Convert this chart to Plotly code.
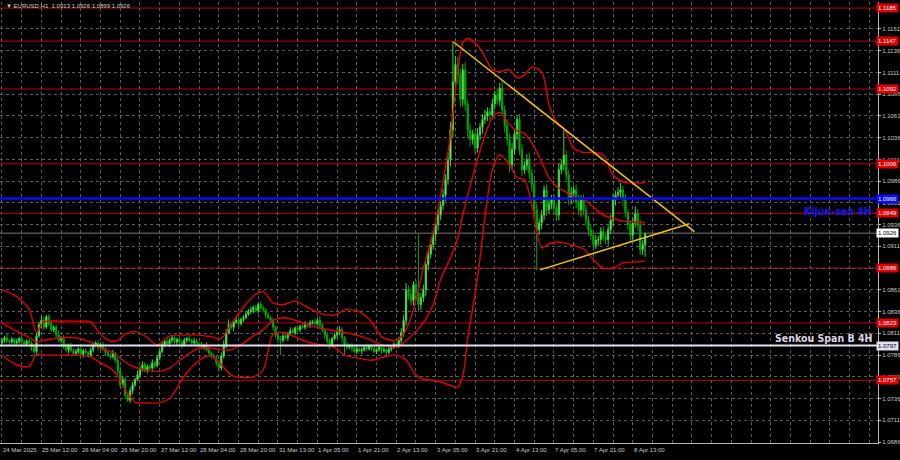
import plotly.graph_objects as go

# ---------------- data ----------------
first_open = 1.0800
close = [
    1.0803, 1.0806, 1.0802, 1.0801, 1.0804, 1.0800, 1.0802, 1.0805, 1.0801, 1.0799,
    1.0802, 1.0800, 1.0795, 1.0790, 1.0808, 1.0821, 1.0826, 1.0818, 1.0830, 1.0822,
    1.0815, 1.0818, 1.0809, 1.0803, 1.0806, 1.0795, 1.0792, 1.0797, 1.0791, 1.0788,
    1.0790, 1.0793, 1.0787, 1.0791, 1.0789, 1.0786, 1.0792, 1.0797, 1.0800, 1.0795,
    1.0798, 1.0793, 1.0789, 1.0786, 1.0784, 1.0788, 1.0780, 1.0768, 1.0752, 1.0758,
    1.0740, 1.0734, 1.0745, 1.0752, 1.0758, 1.0763, 1.0770, 1.0775, 1.0768, 1.0773,
    1.0771, 1.0777, 1.0774, 1.0783, 1.0790, 1.0798, 1.0802, 1.0799, 1.0803, 1.0806,
    1.0801, 1.0804, 1.0801, 1.0798, 1.0803, 1.0805, 1.0803, 1.0800, 1.0802, 1.0799,
    1.0798, 1.0795, 1.0797, 1.0792, 1.0788, 1.0785, 1.0783, 1.0777, 1.0771, 1.0785,
    1.0798, 1.0812, 1.0821, 1.0818, 1.0824, 1.0826, 1.0822, 1.0827, 1.0829, 1.0833,
    1.0836, 1.0838, 1.0841, 1.0837, 1.0844, 1.0840, 1.0838, 1.0832, 1.0829, 1.0826,
    1.0818, 1.0809, 1.0805, 1.0803, 1.0808, 1.0806, 1.0811, 1.0814, 1.0812, 1.0817,
    1.0815, 1.0819, 1.0818, 1.0821, 1.0820, 1.0823, 1.0824, 1.0822, 1.0826, 1.0820,
    1.0815, 1.0809, 1.0802, 1.0798, 1.0805, 1.0809, 1.0812, 1.0815, 1.0806, 1.0798,
    1.0795, 1.0797, 1.0794, 1.0790, 1.0793, 1.0791, 1.0792, 1.0795, 1.0793, 1.0796,
    1.0794, 1.0790, 1.0792, 1.0795, 1.0791, 1.0792, 1.0789, 1.0793, 1.0795, 1.0798,
    1.0797, 1.0803, 1.0812, 1.0826, 1.0861, 1.0855, 1.0849, 1.0867, 1.0858, 1.0844,
    1.0852, 1.0861, 1.0890, 1.0902, 1.0913, 1.0925, 1.0936, 1.0947, 1.0958, 1.0970,
    1.0988, 1.1011, 1.1045, 1.1100, 1.1120, 1.1108, 1.1080, 1.1114, 1.1074, 1.1045,
    1.1034, 1.1040, 1.1024, 1.1039, 1.1048, 1.1057, 1.1061, 1.1066, 1.1062, 1.1075,
    1.1085, 1.1079, 1.1093, 1.1068, 1.1050, 1.1034, 1.1005, 1.1022, 1.1040, 1.1057,
    1.1022, 1.0999, 1.1004, 1.1011, 1.0995, 1.0982, 1.0953, 1.0930, 1.0938, 1.0947,
    1.0976, 1.0953, 1.0960, 1.0965, 1.0955, 1.0947, 1.0999, 1.1005, 1.1016, 1.0993,
    1.0965, 1.0972, 1.0976, 1.0962, 1.0953, 1.0965, 1.0952, 1.0941, 1.0930, 1.0924,
    1.0913, 1.0918, 1.0919, 1.0928, 1.0922, 1.0919, 1.0930, 1.0941, 1.0965, 1.0970,
    1.0973, 1.0976, 1.0965, 1.0950, 1.0936, 1.0924, 1.0938, 1.0949, 1.0936, 1.0907,
    1.0913, 1.0926,
]
up_wick = [
    3, 2, 4, 2, 3, 2, 3, 2, 4, 3,   2, 3, 2, 3, 4, 3, 5, 4, 2, 3,
    4, 2, 3, 5, 2, 3, 4, 2, 3, 2,   3, 2, 4, 2, 3, 2, 3, 4, 2, 3,
    2, 3, 2, 3, 2, 4, 2, 3, 5, 4,   3, 2, 4, 3, 2, 5, 3, 4, 3, 2,
    3, 4, 2, 3, 4, 3, 2, 5, 3, 2,   3, 2, 4, 2, 3, 2, 3, 2, 4, 3,
    2, 3, 2, 4, 3, 2, 3, 2, 3, 4,   5, 4, 6, 3, 2, 4, 3, 2, 3, 4,
    3, 4, 2, 3, 2, 4, 3, 2, 3, 2,   3, 2, 4, 3, 2, 3, 2, 4, 3, 2,
    3, 2, 3, 4, 2, 3, 2, 4, 3, 5,   3, 2, 4, 3, 2, 3, 5, 4, 3, 2,
    3, 2, 3, 2, 4, 2, 3, 2, 3, 2,   2, 3, 2, 3, 2, 4, 2, 3, 2, 3,
    3, 4, 5, 6, 8, 5, 6, 4, 5, 68,  5, 6, 4, 5, 6, 4, 5, 6, 5, 7,
    6, 8, 9, 47, 10, 9, 8, 7, 9, 6, 7, 5, 6, 8, 5, 6, 7, 5, 4, 6,
    5, 7, 6, 9, 5, 6, 7, 8, 5, 4,   6, 7, 5, 6, 8, 5, 6, 7, 5, 6,
    5, 6, 7, 5, 6, 4, 8, 6, 29, 5,  6, 7, 5, 6, 8, 5, 6, 7, 5, 6,
    5, 6, 4, 5, 6, 4, 5, 6, 7, 5,   6, 8, 5, 6, 4, 5, 7, 8, 5, 6,
    5, 0,
]
dn_wick = [
    2, 3, 2, 4, 2, 3, 2, 3, 2, 3,   3, 2, 4, 5, 3, 2, 4, 3, 2, 3,
    2, 3, 4, 2, 3, 2, 3, 4, 2, 3,   2, 3, 2, 4, 2, 3, 2, 3, 2, 4,
    3, 2, 4, 2, 3, 2, 3, 4, 5, 3,   4, 2, 3, 4, 3, 2, 4, 3, 2, 3,
    2, 3, 4, 2, 3, 2, 3, 2, 4, 3,   2, 3, 2, 4, 2, 3, 2, 3, 2, 3,
    3, 2, 3, 2, 4, 3, 2, 4, 4, 3,   3, 4, 2, 3, 4, 2, 3, 2, 3, 2,
    2, 3, 4, 2, 3, 2, 3, 4, 2, 3,   4, 3, 5, 17, 3, 2, 4, 3, 2, 3,
    2, 3, 2, 3, 2, 3, 2, 3, 2, 4,   3, 4, 3, 5, 3, 2, 4, 3, 5, 12,
    3, 2, 4, 2, 3, 2, 4, 2, 3, 2,   3, 2, 3, 2, 4, 2, 3, 2, 3, 2,
    2, 3, 4, 5, 6, 5, 7, 6, 5, 8,   6, 5, 7, 6, 5, 6, 8, 7, 6, 5,
    7, 6, 8, 9, 8, 10, 9, 8, 7, 9,  8, 6, 7, 5, 6, 7, 5, 6, 7, 5,
    6, 5, 7, 6, 8, 7, 9, 6, 5, 7,   6, 7, 5, 6, 7, 8, 9, 46, 6, 7,
    6, 7, 5, 6, 8, 7, 6, 5, 7, 6,   7, 6, 5, 7, 6, 8, 5, 6, 7, 6,
    6, 5, 7, 6, 5, 6, 7, 5, 6, 7,   5, 6, 7, 5, 6, 8, 6, 5, 7, 6,
    6, 14,
]

# Bollinger bands sampled at bar indices
bb_bar = [0, 5, 11, 14, 17, 24, 30, 36, 40, 44, 47, 50, 54, 58, 63, 68, 74, 80, 85, 89,
          93, 98, 102, 106, 110, 114, 119, 124, 129, 135, 139, 145, 150, 154, 160, 164,
          168, 171, 175, 178, 182, 185, 187, 189, 193, 196, 199, 202, 206, 209, 212, 215,
          219, 222, 225, 228, 232, 236, 240, 244, 248, 252, 257, 261]
bb_upper = [1.0861, 1.0855, 1.0839, 1.0812, 1.0824, 1.0825, 1.0825, 1.0824, 1.0810, 1.0802,
            1.0803, 1.0810, 1.0813, 1.0808, 1.0798, 1.0808, 1.0809, 1.0809, 1.0807, 1.0805,
            1.0822, 1.0841, 1.0854, 1.0859, 1.0846, 1.0844, 1.0848, 1.0841, 1.0834, 1.0832,
            1.0838, 1.0836, 1.0824, 1.0807, 1.0803, 1.0815, 1.0849, 1.0886, 1.0927, 1.0970,
            1.1039, 1.1114, 1.1145, 1.1150, 1.1142, 1.1129, 1.1114, 1.1112, 1.1114, 1.1105,
            1.1108, 1.1117, 1.1112, 1.1074, 1.1054, 1.1047, 1.1024, 1.1019, 1.1019, 1.1016,
            1.0993, 1.0985, 1.0984, 1.0984]
bb_mid = [1.0823, 1.0815, 1.0806, 1.0801, 1.0803, 1.0806, 1.0806, 1.0801, 1.0794, 1.0790,
          1.0785, 1.0778, 1.0772, 1.0769, 1.0767, 1.0771, 1.0784, 1.0794, 1.0794, 1.0792,
          1.0792, 1.0800, 1.0808, 1.0815, 1.0826, 1.0829, 1.0826, 1.0821, 1.0817, 1.0814,
          1.0812, 1.0808, 1.0803, 1.0798, 1.0795, 1.0803, 1.0813, 1.0823, 1.0844, 1.0873,
          1.0898, 1.0921, 1.0947, 1.0970, 1.1011, 1.1039, 1.1059, 1.1065, 1.1051, 1.1044,
          1.1041, 1.1030, 1.1008, 1.0990, 1.0980, 1.0975, 1.0968, 1.0965, 1.0956, 1.0947,
          1.0943, 1.0940, 1.0939, 1.0938]
bb_lower = [1.0786, 1.0776, 1.0773, 1.0787, 1.0786, 1.0786, 1.0786, 1.0784, 1.0777, 1.0771,
            1.0762, 1.0746, 1.0732, 1.0731, 1.0731, 1.0736, 1.0762, 1.0780, 1.0785, 1.0775,
            1.0763, 1.0760, 1.0761, 1.0769, 1.0810, 1.0812, 1.0807, 1.0801, 1.0798, 1.0795,
            1.0786, 1.0782, 1.0780, 1.0783, 1.0786, 1.0780, 1.0763, 1.0758, 1.0757, 1.0755,
            1.0751, 1.0749, 1.0762, 1.0805, 1.0875, 1.0945, 1.0999, 1.1016, 1.1005, 1.0990,
            1.0988, 1.0959, 1.0909, 1.0914, 1.0916, 1.0915, 1.0912, 1.0908, 1.0896, 1.0886,
            1.0886, 1.0892, 1.0893, 1.0894]

level_red = [1.1185, 1.1147, 1.1092, 1.1006, 1.0949, 1.0886, 1.0823, 1.0757]
kijun = 1.0966
senkou_b = 1.0797
last_price = 1.0926

tl_upper_bar = [183.3, 281.0]
tl_upper_px = [1.1146, 1.0928]
tl_lower_bar = [218.3, 279.0]
tl_lower_px = [1.0884, 1.0937]

date_bars = [0, 16, 32, 48, 64, 80, 96, 112, 128, 144, 160, 176, 192, 208, 224, 240, 256]
date_labels = ["24 Mar 2025", "25 Mar 12:00", "26 Mar 04:00", "26 Mar 20:00", "27 Mar 12:00",
               "28 Mar 04:00", "28 Mar 20:00", "31 Mar 13:00", "1 Apr 05:00", "1 Apr 21:00",
               "2 Apr 13:00", "3 Apr 05:00", "3 Apr 21:00", "4 Apr 13:00", "7 Apr 05:00",
               "7 Apr 21:00", "8 Apr 13:00"]
# the 1.0886 tick sits under the 1.0886 level box, so its own text is left blank
price_ticks = [1.0686, 1.0711, 1.0736, 1.0761, 1.0786, 1.0811, 1.0836, 1.0861, 1.0886, 1.0911,
               1.0936, 1.0961, 1.0986, 1.1011, 1.1036, 1.1061, 1.1086, 1.1111, 1.1136, 1.1161]
price_tick_text = ["1.0686", "1.0711", "1.0736", "1.0761", "1.0786", "1.0811", "1.0836",
                   "1.0861", "", "1.0911", "1.0936", "1.0961", "1.0986", "1.1011",
                   "1.1036", "1.1061", "1.1086", "1.1111", "1.1136", "1.1161"]
title_text = "\u25bc EURUSD,H1  1.0913 1.0926 1.0899 1.0926"

# ---------------- derived OHLC ----------------
bars = list(range(len(close)))
opens = [first_open] + close[:-1]
highs = [max(o, c) + u / 10000 for o, c, u in zip(opens, close, up_wick)]
lows = [min(o, c) - d / 10000 for o, c, d in zip(opens, close, dn_wick)]

SMALL = "Liberation Sans, Arial, sans-serif"
NARROW = "Liberation Sans Narrow, Arial Narrow, DejaVu Sans Condensed, sans-serif"
GRID = "#5c5c5c"

fig = go.Figure()

shapes = []
for lv in level_red:
    shapes.append(dict(type="line", xref="paper", x0=0, x1=1, yref="y", y0=lv, y1=lv,
                       line=dict(color="#c00000", width=1), layer="below"))
shapes.append(dict(type="line", xref="paper", x0=0, x1=1, yref="y", y0=last_price, y1=last_price,
                   line=dict(color="#505050", width=1.5), layer="below"))
shapes.append(dict(type="line", xref="paper", x0=0, x1=1, yref="y", y0=senkou_b, y1=senkou_b,
                   line=dict(color="#e4dcf0", width=2)))
shapes.append(dict(type="line", xref="paper", x0=0, x1=1, yref="y", y0=kijun, y1=kijun,
                   line=dict(color="#0a0aff", width=2.5)))

for ys in (bb_upper, bb_mid, bb_lower):
    fig.add_trace(go.Scatter(x=bb_bar, y=ys, mode="lines",
                             line=dict(color="#e00000", width=1.4, shape="spline", smoothing=0.8),
                             hoverinfo="skip", showlegend=False))

fig.add_trace(go.Candlestick(
    x=bars, open=opens, high=highs, low=lows, close=close,
    increasing=dict(line=dict(color="#3ad63a", width=1), fillcolor="#b4f5b4"),
    decreasing=dict(line=dict(color="#00a800", width=1), fillcolor="#00a800"),
    whiskerwidth=0, showlegend=False, hoverinfo="skip"))

fig.add_trace(go.Scatter(x=tl_upper_bar, y=tl_upper_px, mode="lines",
                         line=dict(color="#f5c400", width=1.5), showlegend=False, hoverinfo="skip"))
fig.add_trace(go.Scatter(x=tl_lower_bar, y=tl_lower_px, mode="lines",
                         line=dict(color="#f5c400", width=1.5), showlegend=False, hoverinfo="skip"))

ann = []
for b, t in zip(date_bars, date_labels):
    ann.append(dict(x=b, xref="x", y=0, yref="paper", yanchor="top", xanchor="left",
                    text=t, showarrow=False, yshift=-2, xshift=-1,
                    font=dict(family=SMALL, size=6, color="#c8c8c8")))

def box(y, text, bg, fg):
    return dict(x=1, xref="paper", y=y, yref="y", xanchor="left", yanchor="middle",
                text=text, showarrow=False, bgcolor=bg, borderpad=1, xshift=-2,
                font=dict(family=SMALL, size=6, color=fg))

for lv in level_red:
    ann.append(box(lv, f"{lv:.4f}", "#e00000", "#ffffff"))
ann.append(box(kijun, f"{kijun:.4f}", "#0a0aff", "#ffffff"))
ann.append(box(senkou_b, f"{senkou_b:.4f}", "#e4dcf0", "#000000"))
ann.append(box(last_price, f"{last_price:.4f}", "#ffffff", "#000000"))
ann.append(dict(x=0.995, xref="paper", y=1.0952, yref="y", xanchor="right", yanchor="middle",
                text="<b>Kijun-sen 4H</b>", showarrow=False,
                font=dict(family=NARROW, size=10.5, color="#1414ff")))
ann.append(dict(x=0.995, xref="paper", y=1.0806, yref="y", xanchor="right", yanchor="middle",
                text="<b>Senkou Span B 4H</b>", showarrow=False,
                font=dict(family=NARROW, size=10.5, color="#dcd4e8")))
ann.append(dict(x=0.004, xref="paper", y=1, yref="paper", xanchor="left", yanchor="top",
                text=title_text, showarrow=False, yshift=1,
                font=dict(family=SMALL, size=6, color="#d0d0d0")))

fig.update_layout(
    width=900, height=460,
    paper_bgcolor="#000000", plot_bgcolor="#000000",
    margin=dict(l=0, r=22, t=2, b=17, autoexpand=False),
    shapes=shapes, annotations=ann, showlegend=False,
    xaxis=dict(range=[-0.8, 355.5], tickmode="linear", tick0=0, dtick=8,
               showticklabels=False, showgrid=True, gridcolor=GRID, griddash="3px,3px",
               gridwidth=1, zeroline=False, showline=True, linecolor="#b8b8b8", linewidth=1,
               rangeslider=dict(visible=False), fixedrange=True, automargin=False),
    yaxis=dict(range=[1.06849, 1.1192], side="right", tickmode="array",
               tickvals=price_ticks, ticktext=price_tick_text,
               tickfont=dict(family=SMALL, size=6, color="#c8c8c8"),
               ticks="outside", ticklen=2, tickcolor="#b8b8b8",
               showgrid=True, gridcolor=GRID, griddash="3px,3px", gridwidth=1,
               zeroline=False, showline=True, linecolor="#b8b8b8", linewidth=1,
               fixedrange=True, automargin=False),
)

fig.write_html("out.html", config={"displayModeBar": False},
               post_script="document.body.style.margin='0';document.body.style.padding='0';"
                           "document.body.style.background='#000';")
